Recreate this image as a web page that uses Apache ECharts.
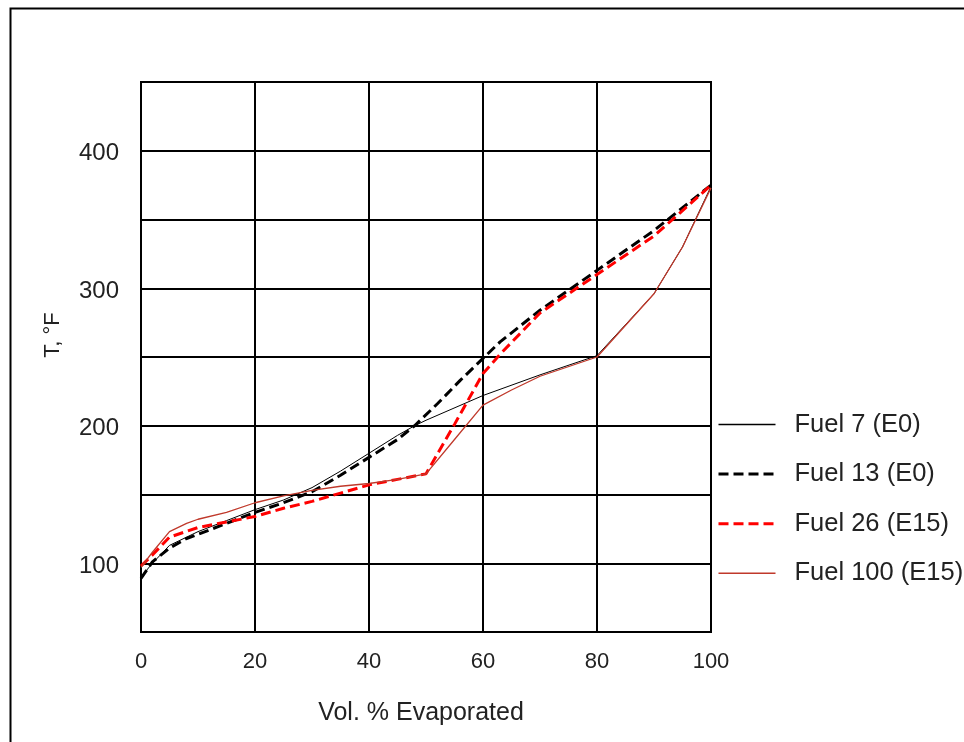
<!DOCTYPE html>
<html>
<head>
<meta charset="utf-8">
<script src="https://cdn.jsdelivr.net/npm/echarts@6/dist/echarts.min.js"></script>
<style>
html,body{margin:0;padding:0;background:#fff;}
#chart{width:964px;height:742px;}
</style>
</head>
<body>
<div id="chart"></div>
<script>
// Data (Vol. % evaporated, T °F)
var fuel7X   = [0, 2, 5, 10, 15, 20, 25, 30, 35, 40, 45, 48, 50, 60, 70, 80, 90, 95, 100];
var fuel7Y   = [90, 100, 113, 123, 131, 139, 146, 155, 167, 180, 193, 200, 204, 222, 237, 251, 296, 330, 374];
var fuel13X  = [0, 2, 5, 8, 10, 15, 20, 25, 30, 35, 40, 45, 48, 52, 56, 60, 63, 70, 80, 90, 100];
var fuel13Y  = [89, 101, 111, 118, 121, 129, 137, 144, 152, 164, 177, 190, 200, 216, 233, 249, 261, 284, 313, 342, 375];
var fuel26X  = [0, 2, 5, 10, 15, 20, 25, 30, 35, 40, 45, 50, 55, 60, 63, 70, 80, 90, 100];
var fuel26Y  = [98, 106, 119, 126, 130, 134, 140, 145, 151, 157, 161, 165, 201, 238, 252, 282, 310, 338, 375];
var fuel100X = [0, 2, 5, 8, 10, 15, 20, 25, 30, 35, 40, 45, 50, 55, 60, 65, 70, 80, 90, 95, 100];
var fuel100Y = [97, 108, 123, 129, 132, 137, 144, 149, 153, 156, 158, 161, 165, 190, 215, 226, 236, 250, 296, 330, 373];
var seriesNames = ['Fuel 7 (E0)', 'Fuel 13 (E0)', 'Fuel 26 (E15)', 'Fuel 100 (E15)'];
var yTickLabels = [100, 200, 300, 400];
var xTickLabels = [0, 20, 40, 60, 80, 100];

function pairs(xs, ys){ return xs.map(function(x,i){ return [x, ys[i]]; }); }

var font = 'Liberation Sans, Arial, sans-serif';
var lineStyles = [
  {color:'#000', width:1},
  {color:'#000', width:3, type:[10,5]},
  {color:'#ff0000', width:3, type:[10,5]},
  {color:'#c0392b', width:1.3}
];
var legendLineStyles = [
  {color:'#000', width:1.5},
  {color:'#000', width:3, type:[10,5]},
  {color:'#ff0000', width:3, type:[10,5]},
  {color:'#c0392b', width:1.5}
];
var chart = echarts.init(document.getElementById('chart'), null, {renderer:'canvas'});
chart.setOption({
  animation:false,
  backgroundColor:'#fff',
  graphic:[{type:'rect', left:8, top:6, shape:{width:2000,height:2000}, style:{fill:'none', stroke:'#000', lineWidth:2}, z:0}],
  grid:{left:141, right:253, top:82, bottom:110, show:true, borderColor:'#000', borderWidth:2},
  xAxis:{
    type:'value', min:0, max:100, interval:20,
    name:'Vol. % Evaporated', nameLocation:'middle', nameGap:69,
    nameTextStyle:{fontFamily:font, fontSize:25, color:'#222', padding:[0,10,0,0]},
    axisLine:{lineStyle:{color:'#000', width:2}},
    axisTick:{show:false},
    axisLabel:{fontFamily:font, fontSize:22, color:'#222', margin:19,
      formatter:function(v){ return xTickLabels.indexOf(v)>=0 ? String(v) : ''; }},
    splitLine:{show:true, lineStyle:{color:'#000', width:2}}
  },
  yAxis:{
    type:'value', min:50, max:450, interval:50,
    name:'T, °F', nameLocation:'middle', nameGap:77, nameRotate:90,
    nameTextStyle:{fontFamily:font, fontSize:22, color:'#222', padding:[0,0,0,44]},
    axisLine:{show:true, lineStyle:{color:'#000', width:2}},
    axisTick:{show:false},
    axisLabel:{fontFamily:font, fontSize:24, color:'#222', margin:22,
      rich:{a:{fontFamily:font, fontSize:24, color:'#222', padding:[6,0,0,0]}},
      formatter:function(v){ return yTickLabels.indexOf(v)>=0 ? '{a|' + v + '}' : ''; }},
    splitLine:{show:true, lineStyle:{color:'#000', width:2}}
  },
  legend:{
    orient:'vertical', left:717, top:411.5, padding:0, itemWidth:57, itemHeight:24, itemGap:23.6,
    itemStyle:{opacity:0},
    textStyle:{fontFamily:font, fontSize:25.5, color:'#222', padding:[0,0,0,14]},
    data:seriesNames.map(function(n,i){ return {name:n, lineStyle:legendLineStyles[i]}; })
  },
  series:seriesNames.map(function(n,i){
    var xs = [fuel7X, fuel13X, fuel26X, fuel100X][i];
    var ys = [fuel7Y, fuel13Y, fuel26Y, fuel100Y][i];
    return {name:n, type:'line', data:pairs(xs, ys), symbol:'none', smooth:false,
      lineStyle:lineStyles[i], itemStyle:{color:lineStyles[i].color}, z:3+i};
  })
});
</script>
</body>
</html>
